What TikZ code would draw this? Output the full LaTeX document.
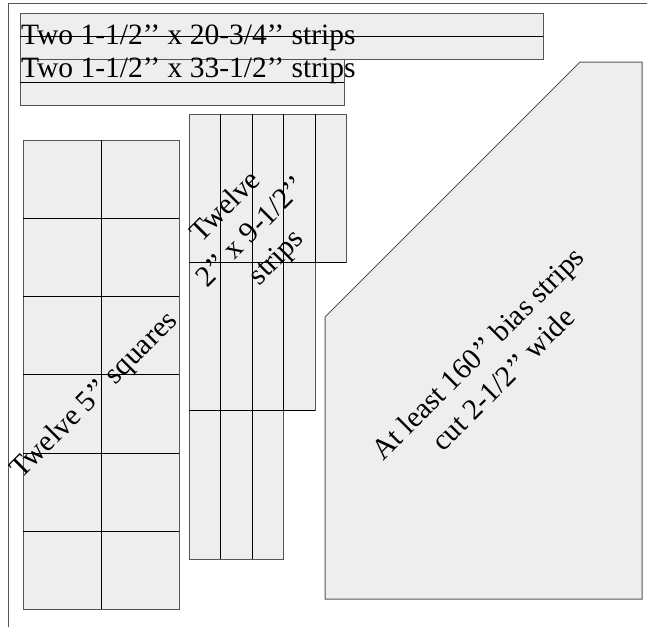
\documentclass[tikz,border=0pt]{standalone}
\usepackage{fontspec}
\setmainfont{Liberation Serif}
\usetikzlibrary{positioning}
\definecolor{cloth}{HTML}{EEEEEE}
\definecolor{edge}{HTML}{555555}
\tikzset{
  piece/.style={fill=cloth,draw=edge,line width=1pt},
  cut/.style={draw=black,line width=1pt},
  label/.style={inner sep=0pt,font=\fontsize{29.5}{36}\selectfont}
}

\begin{document}
\begin{tikzpicture}[x=1pt,y=-1pt]
 \useasboundingbox (0,0) rectangle (647,627);
 \draw[edge,line width=1pt](8,627)--(8,3)--(647,3);
 % strips across the top
 \draw[piece](20,13) rectangle (543,59);
 \draw[cut](20,36)--(543,36);
 \draw[piece](20,59) rectangle (344,105);
 \draw[cut](20,82)--(344,82);
 \node[label,anchor=base west] (topstrip) at (21,44) {Two 1-1/2’’ x 20-3/4’’ strips};
 \node[label,anchor=base west] (midstrip) at (21,77) {Two 1-1/2’’ x 33-1/2’’ strips};
 % squares
 \draw[piece](23,140) rectangle (179,609);
 \draw[cut](101,140)--(101,609);
 \draw[cut](23,218)--(179,218);
 \draw[cut](23,296)--(179,296);
 \draw[cut](23,374)--(179,374);
 \draw[cut](23,453)--(179,453);
 \draw[cut](23,531)--(179,531);
 \node[label,rotate=45] (squares) at (95,396) {Twelve 5’’ squares};
 % long strips
 \draw[piece](189,114) rectangle (346,262);
 \draw[cut](220.5,114)--(220.5,262);
 \draw[cut](252,114)--(252,262);
 \draw[cut](283.5,114)--(283.5,262);
 \draw[cut](315,114)--(315,262);
 \draw[piece](189,262) rectangle (315,410);
 \draw[cut](189,262)--(346,262);
 \draw[cut](220.5,262)--(220.5,410);
 \draw[cut](252,262)--(252,410);
 \draw[cut](283.5,262)--(283.5,410);
 \draw[piece](189,410) rectangle (283.5,559);
 \draw[cut](189,410)--(315,410);
 \draw[cut](220.5,410)--(220.5,559);
 \draw[cut](252,410)--(252,559);
 \node[label,rotate=45,align=center] (strips) at (252,233) {Twelve\\2’’ x 9-1/2’’\\strips};
 % bias
 \draw[piece](325,317)--(580,62)--(642,62)--(642,599)--(325,599)--cycle;
 \node[label,rotate=45,align=center] (bias) at (490,366) {At least 160’’ bias strips\\cut 2-1/2’’ wide};
\end{tikzpicture}
\end{document}
